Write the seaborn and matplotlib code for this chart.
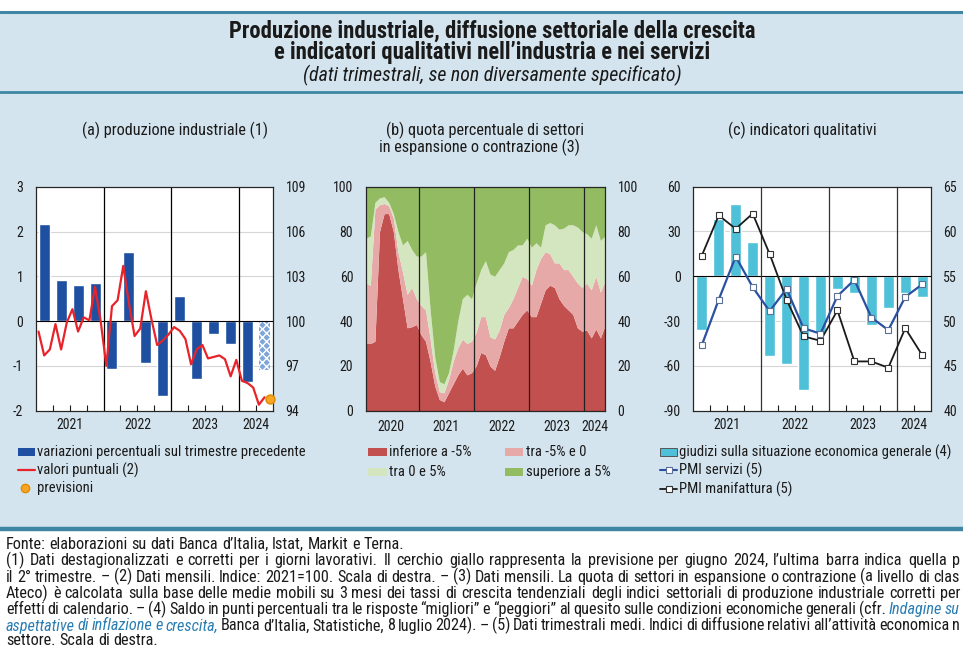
import numpy as np
import matplotlib
matplotlib.use("Agg")
import matplotlib.pyplot as plt
import seaborn as sns
from matplotlib import font_manager as fm
from matplotlib.patches import Rectangle
from matplotlib.lines import Line2D

# ---------------- data: panel (a) produzione industriale ----------------
years_a = ["2021", "2022", "2023", "2024"]
prod_qoq = [2.17, 0.92, 0.81, 0.84, -1.07, 1.54, -0.94, -1.68, 0.55, -1.29, -0.29, -0.50, -1.35]
prod_qoq_forecast = [-1.09]
prod_index = [99.3, 97.7, 98.1, 99.8, 98.1, 99.9, 100.8, 99.3, 100.25, 100.05, 102.3, 100.0,
              97.0, 101.0, 101.4, 103.7, 101.2, 99.0, 99.5, 102.0, 100.1, 98.4, 98.7, 99.1,
              99.6, 99.35, 98.8, 97.1, 98.1, 98.4, 97.5, 97.6, 97.7, 97.45, 96.3, 97.4,
              96.0, 95.85, 95.55, 94.4, 94.9]
prod_index_forecast = [94.8]
legend_a = ["variazioni percentuali sul trimestre precedente", "valori puntuali (2)", "previsioni"]

# ---------------- data: panel (b) quota di settori ----------------
years_b = ["2020", "2021", "2022", "2023", "2024"]
# cumulative boundaries of the stacked shares (monthly, Jan 2020 - May 2024)
share_below_m5 = [30, 30, 31, 80, 88, 88, 80, 63, 50, 37, 37.5, 38.5, 34, 31, 22, 11, 5, 4, 8, 12,
                  16, 19, 16, 17, 20, 26, 25, 20, 18, 24, 31, 37, 37, 40, 43, 45, 42, 42, 48, 54,
                  56, 55, 50, 47, 45, 43, 37, 35.5, 36, 32.5, 36.5, 32.5, 38]
cum_below_0 = [57, 56, 90, 92, 92.5, 91.5, 86, 71, 62, 52, 55, 50, 47, 45, 32, 17, 8.5, 8, 14, 22,
               28, 32, 30, 31, 35, 42, 42, 33, 32, 36, 43, 46, 50, 55, 60, 59, 56, 63, 68, 71,
               70, 66, 66, 63, 63, 60, 57, 55, 57, 54, 60, 53, 58]
cum_below_5 = [77, 78, 93, 95, 95.5, 93, 88, 80, 74, 76, 72, 69, 69, 71, 45, 24, 13, 12, 17, 27,
               40, 50, 52, 50, 57, 63, 67, 61, 60, 63, 66, 71, 72, 74, 74, 77, 73, 75, 73, 83,
               84, 83, 81, 81.5, 83, 83, 82, 80, 79, 77, 83, 76, 78]
legend_b = ["inferiore a -5%", "tra -5% e 0", "tra 0 e 5%", "superiore a 5%"]

# ---------------- data: panel (c) indicatori qualitativi ----------------
years_c = ["2021", "2022", "2023", "2024"]
giudizi = [-36, 38.5, 48.5, 23, -53.5, -58.5, -76, -38, -8.5, -11, -32.5, -21.5, -11.5, -14]
pmi_servizi = [47.3, 52.4, 57.2, 53.8, 51.1, 53.6, 49.2, 48.6, 52.8, 54.6, 50.4, 49.0, 52.7, 54.1]
pmi_manifattura = [57.3, 61.8, 60.3, 62.0, 57.5, 52.4, 48.3, 47.8, 51.2, 45.5, 45.5, 44.8, 49.2, 46.2]
legend_c = ["giudizi sulla situazione economica generale (4)", "PMI servizi (5)", "PMI manifattura (5)"]

# ---------------- texts ----------------
title_1 = "Produzione industriale, diffusione settoriale della crescita"
title_2 = "e indicatori qualitativi nell’industria e nei servizi"
subtitle = "(dati trimestrali, se non diversamente specificato)"
panel_a = "(a) produzione industriale (1)"
panel_b1 = "(b) quota percentuale di settori"
panel_b2 = "in espansione o contrazione (3)"
panel_c = "(c) indicatori qualitativi"
# (segments, justified) -- lines as visible in the reference (cut at the right edge)
notes = [
    ([("Fonte: elaborazioni su dati Banca d’Italia, Istat, Markit e Terna.", False)], False),
    ([("(1) Dati destagionalizzati e corretti per i giorni lavorativi. Il cerchio giallo rappresenta la previsione per giugno 2024, l’ultima barra indica quella p", False)], True),
    ([("il 2° trimestre. – (2) Dati mensili. Indice: 2021=100. Scala di destra. – (3) Dati mensili. La quota di settori in espansione o contrazione (a livello di clas", False)], True),
    ([("Ateco) è calcolata sulla base delle medie mobili su 3 mesi dei tassi di crescita tendenziali degli indici settoriali di produzione industriale corretti per", False)], True),
    ([("effetti di calendario. – (4) Saldo in punti percentuali tra le risposte “migliori” e “peggiori” al quesito sulle condizioni economiche generali (cfr.", False),
      ("Indagine su", True)], True),
    ([("aspettative di inflazione e crescita,", True),
      ("Banca d’Italia, Statistiche, 8 luglio 2024). – (5) Dati trimestrali medi. Indici di diffusione relativi all’attività economica n", False)], True),
    ([("settore. Scala di destra.", False)], False),
]

# ---------------- style ----------------
sns.set_style("white")
avail = {f.name for f in fm.fontManager.ttflist}
FAM, STRETCH = None, "normal"
for n in ["Liberation Sans Narrow", "Arial Narrow", "Roboto Condensed", "Open Sans Condensed", "Nimbus Sans Narrow"]:
    if n in avail:
        FAM = n
        break
if FAM is None:
    if any(f.name == "DejaVu Sans" and str(f.stretch) in ("condensed", "semi-condensed")
           for f in fm.fontManager.ttflist):
        FAM, STRETCH = "DejaVu Sans", "condensed"
    else:
        FAM = "Liberation Sans"
plt.rcParams["font.family"] = [FAM, "DejaVu Sans"]
plt.rcParams["font.stretch"] = STRETCH
plt.rcParams["hatch.linewidth"] = 1.0
TXT = "#1a1a1a"

BG = "#d4e4ee"
RULE = "#3f86a3"
BLUE_A = "#1f4fa0"
RED_A = "#e8242b"
ORANGE = "#f6a623"
C_RED, C_PINK, C_LG, C_G = "#c1504e", "#e7a9a8", "#d4e6bf", "#93bb62"
CYAN = "#4ec1d8"
BLUE_C = "#2a50a2"
LINK = "#2a7db3"

W, H = 963, 648
fig = plt.figure(figsize=(W / 100, H / 100), dpi=100)
fig.patch.set_facecolor("white")
r = fig.canvas.get_renderer()


def fx(x):
    return x / W


def fy(y):
    return 1 - y / H


def prop_of(size, weight="normal", style="normal"):
    return fm.FontProperties(family=[FAM, "DejaVu Sans"], stretch=STRETCH, size=size,
                             weight=weight, style=style)


def width_px(s, size, weight="normal", style="normal"):
    w, h, d = r.get_text_width_height_descent(s, prop_of(size, weight, style), ismath=False)
    return w


def size_for(s, target, weight="normal", style="normal"):
    return 10 * target / width_px(s, 10, weight, style)


fs_title = size_for(title_1, 529, weight="bold")
fs_sub = size_for(subtitle, 378, style="italic")
fs_panel = size_for(panel_a, 186)
fs_leg = size_for(legend_a[0], 266)
fs_note = size_for(notes[0][0][0][0], 396)
fs_tick = size_for("2021", 27)

# background and rules
fig.add_artist(Rectangle((0, fy(528)), 1, (528 - 12) / H, transform=fig.transFigure,
                         facecolor=BG, edgecolor="none", zorder=-10))
for yy, lw in [(12, 2.2), (92, 2.0), (529, 3.2)]:
    fig.add_artist(Line2D([0, 1], [fy(yy), fy(yy)], transform=fig.transFigure, color=RULE, lw=lw))

overlay = fig.add_axes([0, 0, 1, 1])
overlay.set_axis_off()
overlay.set_xlim(0, 1)
overlay.set_ylim(0, 1)

overlay.text(fx(492), fy(31), title_1, ha="center", va="center", fontsize=fs_title, weight="bold", color=TXT)
overlay.text(fx(492), fy(53), title_2, ha="center", va="center", fontsize=fs_title, weight="bold", color=TXT)
overlay.text(fx(492), fy(75), subtitle, ha="center", va="center", fontsize=fs_sub, style="italic", color=TXT)
overlay.text(fx(175), fy(130), panel_a, ha="center", va="center", fontsize=fs_panel, color=TXT)
overlay.text(fx(485), fy(130), panel_b1, ha="center", va="center", fontsize=fs_panel, color=TXT)
overlay.text(fx(479), fy(147), panel_b2, ha="center", va="center", fontsize=fs_panel, color=TXT)
overlay.text(fx(802), fy(130), panel_c, ha="center", va="center", fontsize=fs_panel, color=TXT)

# footnotes: justified word by word like the reference (baseline aligned)
note_base = [549, 565.3, 581.6, 597.9, 614.2, 630.5, 645]
NOTE_X0, NOTE_X1 = 6, 960
space_w = width_px("a a", fs_note) - width_px("aa", fs_note)
for yy, (segs, justify) in zip(note_base, notes):
    tokens = []
    for s, ital in segs:
        for tok in s.split(" "):
            if tok:
                tokens.append((tok, ital))
    widths = [width_px(t, fs_note, style="italic" if it else "normal") for t, it in tokens]
    if justify and len(tokens) > 1:
        gap = (NOTE_X1 - NOTE_X0 - sum(widths)) / (len(tokens) - 1)
    else:
        gap = space_w
    x = NOTE_X0
    for (t, it), w in zip(tokens, widths):
        overlay.text(fx(x), fy(yy), t, ha="left", va="baseline", fontsize=fs_note,
                     style="italic" if it else "normal", color=LINK if it else TXT)
        x += w + gap

AX_TOP, AX_BOT = 186.7, 410.7


def make_axes(x0, x1):
    ax = fig.add_axes([fx(x0), fy(AX_BOT), (x1 - x0) / W, (AX_BOT - AX_TOP) / H])
    for sp in ax.spines.values():
        sp.set_visible(True)
        sp.set_color("black")
        sp.set_linewidth(0.8)
    return ax


def style_y(ax, ticks, side):
    ax.set_yticks(ticks)
    ax.set_yticklabels([str(t) for t in ticks])
    ax.tick_params(axis="y", length=0, pad=9, labelsize=fs_tick, colors=TXT)
    if side == "right":
        ax.yaxis.tick_right()


# ================= panel (a) =================
ax_a = make_axes(35.7, 273.0)
ax_a.set_facecolor("white")
qa = np.arange(len(prod_qoq)) * 3 + 1.5
qa_f = np.arange(len(prod_qoq), len(prod_qoq) + len(prod_qoq_forecast)) * 3 + 1.5
for yg in [-1, 1, 2]:
    ax_a.axhline(yg, color="#d6d6d6", lw=0.8, zorder=1)
ax_a.bar(qa, prod_qoq, width=1.95, color=BLUE_A, zorder=3)
ax_a.bar(qa_f, prod_qoq_forecast, width=1.95, facecolor="#7ea6da", edgecolor="white",
         hatch="xxxx", lw=0, zorder=3)
ax_a.axhline(0, color="black", lw=0.8, zorder=4)
for xb in [12, 24, 36]:
    ax_a.axvline(xb, color="black", lw=0.9, zorder=5)
ax_a.set_xlim(0, 42)
ax_a.set_ylim(-2, 3)
ax_a.set_xticks([6, 18, 30, 39])
ax_a.set_xticklabels(years_a)
ax_a.set_xticks([3, 9, 15, 21, 27, 33], minor=True)
ax_a.tick_params(axis="x", which="both", direction="in", length=4, width=0.8, pad=5,
                 labelsize=fs_tick, colors=TXT, bottom=True, top=False)
style_y(ax_a, [-2, -1, 0, 1, 2, 3], "left")

ax_a2 = ax_a.twinx()
months_a = np.arange(len(prod_index)) + 0.5
months_f = np.arange(len(prod_index), len(prod_index) + len(prod_index_forecast)) + 0.5
sns.lineplot(x=months_a, y=prod_index, ax=ax_a2, color=RED_A, lw=1.6, zorder=6)
ax_a2.plot(months_f, prod_index_forecast, "o", color=ORANGE, markeredgecolor="#e08b00",
           markersize=6.5, clip_on=False, zorder=7)
ax_a2.set_ylim(94, 109)
ax_a2.set_xlim(0, 42)
style_y(ax_a2, [94, 97, 100, 103, 106, 109], "right")
ax_a2.set_ylabel("")

# ================= panel (b) =================
ax_b = make_axes(365.7, 605.0)
xb_m = np.arange(len(share_below_m5))
red = np.array(share_below_m5)
pink = np.array(cum_below_0) - red
lg = np.array(cum_below_5) - np.array(cum_below_0)
gr = 100 - np.array(cum_below_5)
ax_b.stackplot(xb_m, red, pink, lg, gr, colors=[C_RED, C_PINK, C_LG, C_G], lw=0, zorder=2)
for xl in [11.5, 23.5, 35.5, 47.5]:
    ax_b.axvline(xl, color="#222222", lw=0.9, zorder=5)
ax_b.set_xlim(0, 52)
ax_b.set_ylim(0, 100)
ax_b.set_xticks([5.5, 17.5, 29.5, 41.5, 49.75])
ax_b.set_xticklabels(years_b)
ax_b.set_xticks([m for m in range(0, 53)], minor=True)
ax_b.tick_params(axis="x", which="major", direction="in", length=6, width=0.8, pad=7,
                 labelsize=fs_tick, colors=TXT)
ax_b.tick_params(axis="x", which="minor", direction="in", length=3, width=0.7, colors="#333333")
ax_b.xaxis.get_major_ticks()[-1].tick1line.set_visible(False)
style_y(ax_b, [0, 20, 40, 60, 80, 100], "left")
ax_b2 = ax_b.twinx()
ax_b2.set_ylim(0, 100)
style_y(ax_b2, [0, 20, 40, 60, 80, 100], "right")

# ================= panel (c) =================
ax_c = make_axes(693.3, 930.7)
ax_c.set_facecolor("white")
qc = np.arange(len(giudizi)) * 3 + 1.5
for yg in [30, -30, -60]:
    ax_c.axhline(yg, color="#d6d6d6", lw=0.8, zorder=1)
ax_c.bar(qc, giudizi, width=1.95, color=CYAN, zorder=3)
ax_c.axhline(0, color="black", lw=0.8, zorder=4)
for xl in [12, 24, 36]:
    ax_c.axvline(xl, color="#333333", lw=0.9, zorder=5)
ax_c.set_xlim(0, 42)
ax_c.set_ylim(-90, 60)
ax_c.set_xticks([6, 18, 30, 39])
ax_c.set_xticklabels(years_c)
ax_c.set_xticks([3, 9, 15, 21, 27, 33], minor=True)
ax_c.tick_params(axis="x", which="both", direction="in", length=4, width=0.8, pad=5,
                 labelsize=fs_tick, colors=TXT, bottom=True, top=False)
style_y(ax_c, [-90, -60, -30, 0, 30, 60], "left")

ax_c2 = ax_c.twinx()
sns.lineplot(x=qc, y=pmi_manifattura, ax=ax_c2, color="#1a1a1a", lw=1.3, marker="s",
             markersize=5, markerfacecolor="white", markeredgecolor="#333333",
             markeredgewidth=0.8, zorder=6)
sns.lineplot(x=qc, y=pmi_servizi, ax=ax_c2, color=BLUE_C, lw=1.6, marker="s",
             markersize=5, markerfacecolor="white", markeredgecolor="#5a6e96",
             markeredgewidth=0.8, zorder=7)
ax_c2.set_ylim(40, 65)
ax_c2.set_xlim(0, 42)
style_y(ax_c2, [40, 45, 50, 55, 60, 65], "right")
ax_c2.set_ylabel("")

# ================= legends (drawn in figure pixels) =================
def leg_patch(x0, x1, y, face, edge="none"):
    overlay.add_patch(Rectangle((fx(x0), fy(y + 4)), (x1 - x0) / W, 8 / H, facecolor=face,
                                edgecolor=edge, lw=0.7))


def leg_line(x0, x1, y, color, lw=1.5, marker=None, mec="#333333"):
    xs = [fx(x0), fx((x0 + x1) / 2), fx(x1)]
    overlay.add_line(Line2D(xs, [fy(y)] * 3, color=color, lw=lw, marker=marker, markevery=[1],
                            markersize=4.5, markerfacecolor="white", markeredgecolor=mec,
                            markeredgewidth=0.8))


def leg_text(x, y, s):
    overlay.text(fx(x), fy(y), s, ha="left", va="center", fontsize=fs_leg, color=TXT)


# (a)
leg_patch(18, 35, 452, BLUE_A)
leg_text(37, 452, legend_a[0])
leg_line(18, 35, 470, RED_A, lw=1.6)
leg_text(37, 470, legend_a[1])
overlay.add_line(Line2D([fx(25)], [fy(488)], marker="o", color=ORANGE, markeredgecolor="#e08b00",
                        markersize=6, lw=0))
leg_text(37, 488, legend_a[2])
# (b)
leg_patch(368, 387, 452, C_RED)
leg_text(389, 452, legend_b[0])
leg_patch(505, 523, 452, C_PINK)
leg_text(526, 452, legend_b[1])
leg_patch(368, 387, 472, C_LG)
leg_text(389, 472, legend_b[2])
leg_patch(505, 523, 472, C_G)
leg_text(526, 472, legend_b[3])
# (c)
leg_patch(660, 677, 452, CYAN, edge="#555555")
leg_text(679, 452, legend_c[0])
leg_line(660, 677, 470, BLUE_C, lw=1.5, marker="s", mec="#5a6e96")
leg_text(679, 470, legend_c[1])
leg_line(660, 677, 489, "#1a1a1a", lw=1.3, marker="s", mec="#333333")
leg_text(679, 489, legend_c[2])

fig.savefig("out.png", dpi=100, facecolor="white")
